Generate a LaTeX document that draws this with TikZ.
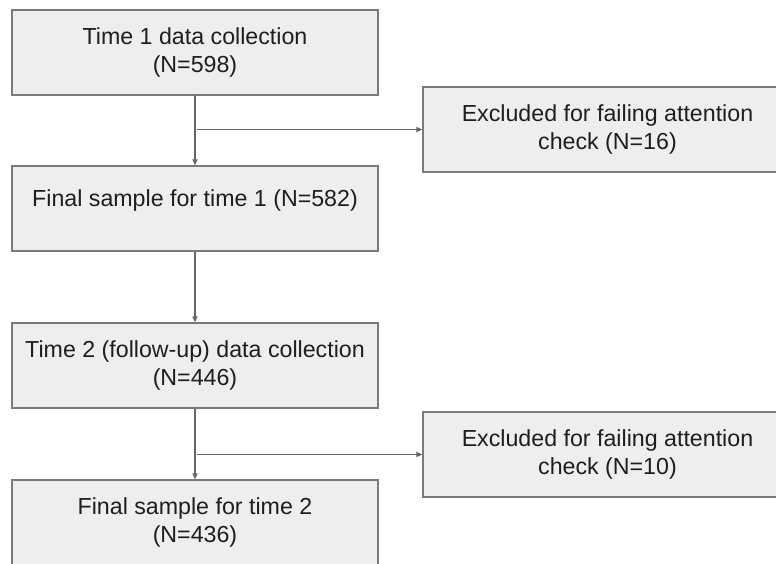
\documentclass[tikz,border=0pt]{standalone}
\usepackage{fontspec}
\setmainfont{Liberation Sans}
\usetikzlibrary{arrows.meta,calc}
\definecolor{boxfill}{HTML}{EEEEEE}
\definecolor{boxline}{HTML}{7A7A7A}
\definecolor{linkgray}{HTML}{666666}
\definecolor{txtgray}{HTML}{1E1E1E}
\begin{document}
\begin{tikzpicture}[x=1pt,y=-1pt,
  box/.style={draw=boxline, fill=boxfill, line width=1.3pt, minimum width=366pt,
    minimum height=85pt, inner sep=0pt, align=center, text=txtgray,
    font=\fontsize{23.2}{27.5}\selectfont},
  wbox/.style={box, minimum width=369pt},
  txt/.style={inner sep=0pt, align=center, text=txtgray, font=\fontsize{23.2}{27.5}\selectfont},
  link/.style={draw=linkgray, line width=1.2pt, -{Triangle[length=6pt,width=5pt]}}]
\useasboundingbox (0,0) rectangle (776,563);
\clip (0,0) rectangle (776,563);
\fill[white] (0,0) rectangle (776,563);
\node[box] (b1) at (195,52.5) {Time 1 data collection\\(N=598)};
\node[wbox] (b2) at (607.5,129.5) {Excluded for failing attention\\check (N=16)};
\node[box] (b3) at (195,208.5) {};
\node[txt] (t3) at (195,200) {Final sample for time 1 (N=582)};
\node[box] (b4) at (195,365.5) {Time 2 (follow-up) data collection\\(N=446)};
\node[wbox] (b5) at (607.5,454.5) {Excluded for failing attention\\check (N=10)};
\node[box] (b6) at (195,522.5) {Final sample for time 2\\(N=436)};
\draw[link] (b1.south) -- (b3.north);
\draw[link] (b3.south) -- (b4.north);
\draw[link] (b4.south) -- (b6.north);
\coordinate (j1) at ($(b1.south |- b2.west)+(2,0)$);
\coordinate (j2) at ($(b4.south |- b5.west)+(2,0)$);
\draw[link] (j1) -- (b2.west);
\draw[link] (j2) -- (b5.west);
\end{tikzpicture}
\end{document}
